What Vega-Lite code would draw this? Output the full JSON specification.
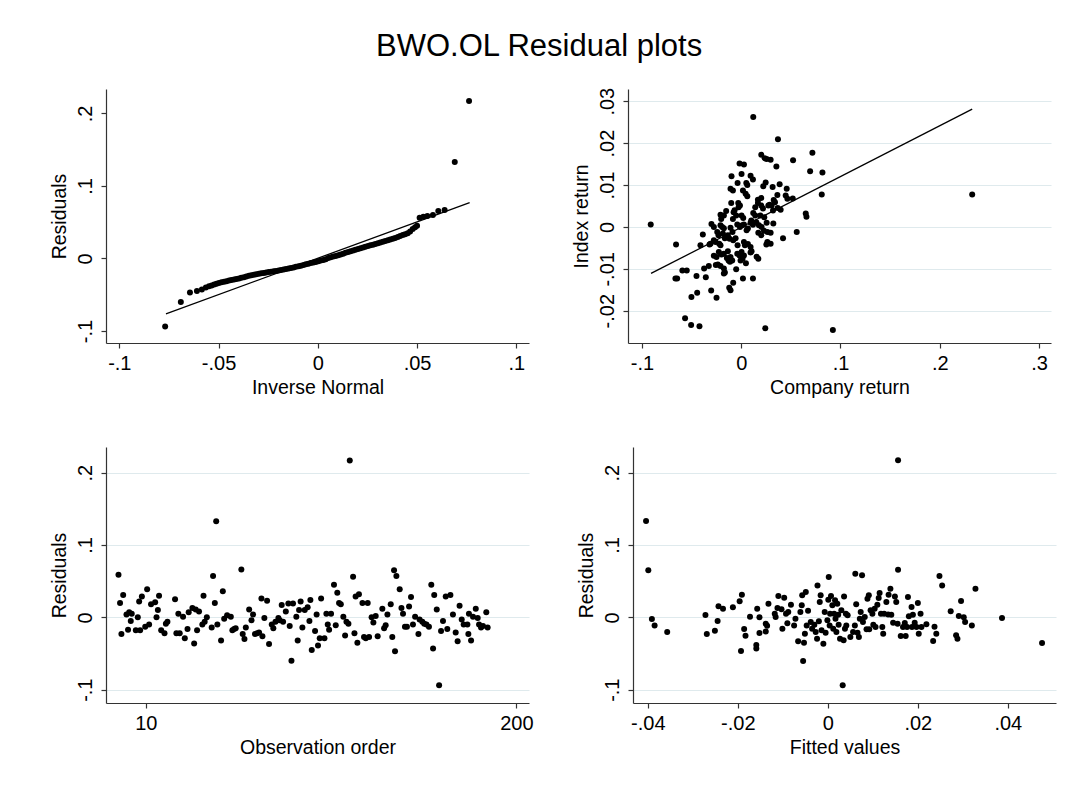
{
  "$schema": "https://vega.github.io/schema/vega-lite/v6.json",
  "background": "white",
  "padding": {"left": 49, "top": 31, "right": 10, "bottom": 10},
  "title": {"text": "BWO.OL Residual plots", "fontSize": 31, "font": "Liberation Sans", "fontWeight": "normal", "color": "#000000", "anchor": "start", "frame": "group", "dx": 270, "offset": 24},
  "config": {
    "font": "Liberation Sans",
    "view": {"stroke": null},
    "axis": {
      "labelFont": "Liberation Sans", "titleFont": "Liberation Sans",
      "labelFontSize": 20, "titleFontSize": 19.5, "titleFontWeight": "normal",
      "labelColor": "#000000", "titleColor": "#000000",
      "domainColor": "#333333", "tickColor": "#333333", "domainWidth": 1.2, "tickWidth": 1.2,
      "tickSize": 5, "grid": false, "gridColor": "#dfeaed", "gridWidth": 1.2,
      "labelFlush": false, "labelOverlap": false, "labelPadding": 5, "titlePadding": 5,
      "labelExpr": "(datum.value < 0 ? '-' : '') + replace(format(abs(datum.value), '~g'), '0.', '.')"
    },
    "axisY": {"labelAngle": -90, "labelAlign": "center", "labelBaseline": "bottom", "labelPadding": 6, "titlePadding": 6}
  },
  "datasets": {
    "qq": [
      {"inverse_normal": -0.0769, "residual": -0.094},
      {"inverse_normal": -0.0690, "residual": -0.060},
      {"inverse_normal": -0.0644, "residual": -0.047},
      {"inverse_normal": -0.0609, "residual": -0.045},
      {"inverse_normal": -0.0584, "residual": -0.043},
      {"inverse_normal": -0.0564, "residual": -0.040},
      {"inverse_normal": -0.0548, "residual": -0.0385},
      {"inverse_normal": -0.0535, "residual": -0.0372},
      {"inverse_normal": -0.0522, "residual": -0.0360},
      {"inverse_normal": -0.0510, "residual": -0.0348},
      {"inverse_normal": -0.0498, "residual": -0.0338},
      {"inverse_normal": -0.0485, "residual": -0.0330},
      {"inverse_normal": -0.0472, "residual": -0.0322},
      {"inverse_normal": -0.0460, "residual": -0.0314},
      {"inverse_normal": -0.0447, "residual": -0.0306},
      {"inverse_normal": -0.0435, "residual": -0.0298},
      {"inverse_normal": -0.0422, "residual": -0.0290},
      {"inverse_normal": -0.0410, "residual": -0.0283},
      {"inverse_normal": -0.0397, "residual": -0.0276},
      {"inverse_normal": -0.0385, "residual": -0.0268},
      {"inverse_normal": -0.0372, "residual": -0.0260},
      {"inverse_normal": -0.0360, "residual": -0.0250},
      {"inverse_normal": -0.0347, "residual": -0.0240},
      {"inverse_normal": -0.0335, "residual": -0.0232},
      {"inverse_normal": -0.0322, "residual": -0.0225},
      {"inverse_normal": -0.0310, "residual": -0.0218},
      {"inverse_normal": -0.0297, "residual": -0.0212},
      {"inverse_normal": -0.0285, "residual": -0.0206},
      {"inverse_normal": -0.0272, "residual": -0.0200},
      {"inverse_normal": -0.0260, "residual": -0.0193},
      {"inverse_normal": -0.0247, "residual": -0.0187},
      {"inverse_normal": -0.0235, "residual": -0.0182},
      {"inverse_normal": -0.0222, "residual": -0.0177},
      {"inverse_normal": -0.0210, "residual": -0.0172},
      {"inverse_normal": -0.0197, "residual": -0.0166},
      {"inverse_normal": -0.0185, "residual": -0.0160},
      {"inverse_normal": -0.0172, "residual": -0.0154},
      {"inverse_normal": -0.0160, "residual": -0.0147},
      {"inverse_normal": -0.0147, "residual": -0.0140},
      {"inverse_normal": -0.0135, "residual": -0.0132},
      {"inverse_normal": -0.0122, "residual": -0.0124},
      {"inverse_normal": -0.0110, "residual": -0.0116},
      {"inverse_normal": -0.0097, "residual": -0.0108},
      {"inverse_normal": -0.0085, "residual": -0.0100},
      {"inverse_normal": -0.0072, "residual": -0.0090},
      {"inverse_normal": -0.0060, "residual": -0.0080},
      {"inverse_normal": -0.0047, "residual": -0.0072},
      {"inverse_normal": -0.0035, "residual": -0.0064},
      {"inverse_normal": -0.0022, "residual": -0.0056},
      {"inverse_normal": -0.0010, "residual": -0.0048},
      {"inverse_normal": 0.0003, "residual": -0.0040},
      {"inverse_normal": 0.0015, "residual": -0.0030},
      {"inverse_normal": 0.0028, "residual": -0.0020},
      {"inverse_normal": 0.0040, "residual": -0.0010},
      {"inverse_normal": 0.0053, "residual": 0.0005},
      {"inverse_normal": 0.0065, "residual": 0.0015},
      {"inverse_normal": 0.0078, "residual": 0.0025},
      {"inverse_normal": 0.0090, "residual": 0.0035},
      {"inverse_normal": 0.0103, "residual": 0.0045},
      {"inverse_normal": 0.0115, "residual": 0.0055},
      {"inverse_normal": 0.0128, "residual": 0.0066},
      {"inverse_normal": 0.0140, "residual": 0.0078},
      {"inverse_normal": 0.0153, "residual": 0.0090},
      {"inverse_normal": 0.0165, "residual": 0.0100},
      {"inverse_normal": 0.0178, "residual": 0.0110},
      {"inverse_normal": 0.0190, "residual": 0.0120},
      {"inverse_normal": 0.0203, "residual": 0.0130},
      {"inverse_normal": 0.0215, "residual": 0.0140},
      {"inverse_normal": 0.0228, "residual": 0.0150},
      {"inverse_normal": 0.0240, "residual": 0.0160},
      {"inverse_normal": 0.0253, "residual": 0.0170},
      {"inverse_normal": 0.0265, "residual": 0.0180},
      {"inverse_normal": 0.0278, "residual": 0.0190},
      {"inverse_normal": 0.0290, "residual": 0.0200},
      {"inverse_normal": 0.0303, "residual": 0.0210},
      {"inverse_normal": 0.0315, "residual": 0.0220},
      {"inverse_normal": 0.0328, "residual": 0.0230},
      {"inverse_normal": 0.0340, "residual": 0.0240},
      {"inverse_normal": 0.0353, "residual": 0.0250},
      {"inverse_normal": 0.0365, "residual": 0.0260},
      {"inverse_normal": 0.0378, "residual": 0.0270},
      {"inverse_normal": 0.0390, "residual": 0.0283},
      {"inverse_normal": 0.0403, "residual": 0.0296},
      {"inverse_normal": 0.0415, "residual": 0.0310},
      {"inverse_normal": 0.0428, "residual": 0.0322},
      {"inverse_normal": 0.0440, "residual": 0.0334},
      {"inverse_normal": 0.0453, "residual": 0.0348},
      {"inverse_normal": 0.0465, "residual": 0.0370},
      {"inverse_normal": 0.0478, "residual": 0.0405},
      {"inverse_normal": 0.0490, "residual": 0.0430},
      {"inverse_normal": 0.0500, "residual": 0.0450},
      {"inverse_normal": 0.0513, "residual": 0.0562},
      {"inverse_normal": 0.0532, "residual": 0.0576},
      {"inverse_normal": 0.0552, "residual": 0.0585},
      {"inverse_normal": 0.0580, "residual": 0.0600},
      {"inverse_normal": 0.0607, "residual": 0.0654},
      {"inverse_normal": 0.0639, "residual": 0.0668},
      {"inverse_normal": 0.0690, "residual": 0.133},
      {"inverse_normal": 0.0762, "residual": 0.217}
    ],
    "qq_line": [
      {"inverse_normal": -0.0765, "residual": -0.0765},
      {"inverse_normal": 0.0765, "residual": 0.077}
    ],
    "returns": [
      {"company_return": 0.0202, "index_return": 0.0172},
      {"company_return": 0.0236, "index_return": 0.0164},
      {"company_return": 0.0256, "index_return": 0.0162},
      {"company_return": 0.0296, "index_return": 0.0160},
      {"company_return": -0.0017, "index_return": 0.0151},
      {"company_return": 0.0027, "index_return": 0.0149},
      {"company_return": 0.0354, "index_return": 0.0144},
      {"company_return": -0.0098, "index_return": 0.0121},
      {"company_return": 0.0003, "index_return": 0.0126},
      {"company_return": 0.0094, "index_return": 0.0122},
      {"company_return": 0.0118, "index_return": 0.0113},
      {"company_return": 0.0051, "index_return": 0.0105},
      {"company_return": 0.0061, "index_return": 0.0100},
      {"company_return": 0.0246, "index_return": 0.0106},
      {"company_return": 0.0222, "index_return": 0.0097},
      {"company_return": 0.0316, "index_return": 0.0095},
      {"company_return": 0.0387, "index_return": 0.0102},
      {"company_return": -0.0108, "index_return": 0.0091},
      {"company_return": -0.0084, "index_return": 0.0087},
      {"company_return": -0.0037, "index_return": 0.0105},
      {"company_return": 0.0017, "index_return": 0.0087},
      {"company_return": 0.0044, "index_return": 0.0079},
      {"company_return": 0.0061, "index_return": 0.0073},
      {"company_return": 0.0202, "index_return": 0.0069},
      {"company_return": 0.0168, "index_return": 0.0065},
      {"company_return": 0.0364, "index_return": 0.0076},
      {"company_return": 0.0448, "index_return": 0.0075},
      {"company_return": 0.0465, "index_return": 0.0067},
      {"company_return": -0.0101, "index_return": 0.0057},
      {"company_return": -0.0030, "index_return": 0.0057},
      {"company_return": -0.0013, "index_return": 0.0051},
      {"company_return": 0.0168, "index_return": 0.0057},
      {"company_return": 0.0141, "index_return": 0.0047},
      {"company_return": 0.0202, "index_return": 0.0051},
      {"company_return": 0.0286, "index_return": 0.0053},
      {"company_return": 0.0327, "index_return": 0.0064},
      {"company_return": 0.0340, "index_return": 0.0059},
      {"company_return": 0.0397, "index_return": 0.0041},
      {"company_return": 0.0367, "index_return": 0.0045},
      {"company_return": -0.0175, "index_return": 0.0027},
      {"company_return": -0.0202, "index_return": 0.0019},
      {"company_return": -0.0209, "index_return": 0.0029},
      {"company_return": -0.0152, "index_return": 0.0038},
      {"company_return": -0.0077, "index_return": 0.0035},
      {"company_return": -0.0067, "index_return": 0.0040},
      {"company_return": -0.0084, "index_return": 0.0019},
      {"company_return": -0.0051, "index_return": 0.0027},
      {"company_return": -0.0027, "index_return": 0.0047},
      {"company_return": 0.0003, "index_return": 0.0027},
      {"company_return": 0.0020, "index_return": 0.0021},
      {"company_return": 0.0121, "index_return": 0.0033},
      {"company_return": 0.0141, "index_return": 0.0027},
      {"company_return": 0.0101, "index_return": 0.0015},
      {"company_return": 0.0192, "index_return": 0.0027},
      {"company_return": 0.0219, "index_return": 0.0044},
      {"company_return": 0.0232, "index_return": 0.0023},
      {"company_return": 0.0256, "index_return": 0.0010},
      {"company_return": 0.0306, "index_return": 0.0051},
      {"company_return": 0.0320, "index_return": 0.0039},
      {"company_return": 0.0273, "index_return": 0.0051},
      {"company_return": 0.0323, "index_return": 0.0008},
      {"company_return": -0.0209, "index_return": 0.0004},
      {"company_return": -0.0192, "index_return": 0.0000},
      {"company_return": -0.0175, "index_return": -0.0003},
      {"company_return": -0.0108, "index_return": -0.0002},
      {"company_return": -0.0088, "index_return": -0.0012},
      {"company_return": -0.0040, "index_return": 0.0006},
      {"company_return": -0.0013, "index_return": 0.0000},
      {"company_return": 0.0010, "index_return": 0.0004},
      {"company_return": 0.0027, "index_return": 0.0006},
      {"company_return": 0.0054, "index_return": -0.0008},
      {"company_return": 0.0067, "index_return": -0.0004},
      {"company_return": 0.0094, "index_return": 0.0010},
      {"company_return": 0.0118, "index_return": 0.0005},
      {"company_return": 0.0178, "index_return": 0.0004},
      {"company_return": 0.0205, "index_return": 0.0000},
      {"company_return": 0.0202, "index_return": -0.0020},
      {"company_return": 0.0172, "index_return": -0.0014},
      {"company_return": 0.0229, "index_return": -0.0009},
      {"company_return": 0.0263, "index_return": -0.0012},
      {"company_return": 0.0296, "index_return": -0.0014},
      {"company_return": 0.0152, "index_return": 0.0011},
      {"company_return": -0.0242, "index_return": -0.0012},
      {"company_return": -0.0229, "index_return": -0.0020},
      {"company_return": -0.0276, "index_return": -0.0032},
      {"company_return": -0.0259, "index_return": -0.0036},
      {"company_return": -0.0222, "index_return": -0.0040},
      {"company_return": -0.0209, "index_return": -0.0044},
      {"company_return": -0.0320, "index_return": -0.0042},
      {"company_return": -0.0135, "index_return": -0.0020},
      {"company_return": -0.0118, "index_return": -0.0028},
      {"company_return": -0.0185, "index_return": -0.0016},
      {"company_return": -0.0165, "index_return": -0.0027},
      {"company_return": -0.0057, "index_return": -0.0027},
      {"company_return": -0.0081, "index_return": -0.0032},
      {"company_return": 0.0027, "index_return": -0.0036},
      {"company_return": 0.0037, "index_return": -0.0044},
      {"company_return": 0.0067, "index_return": -0.0041},
      {"company_return": -0.0037, "index_return": -0.0044},
      {"company_return": 0.0094, "index_return": -0.0048},
      {"company_return": 0.0253, "index_return": -0.0042},
      {"company_return": 0.0296, "index_return": -0.0040},
      {"company_return": 0.0263, "index_return": -0.0036},
      {"company_return": 0.0003, "index_return": -0.0060},
      {"company_return": 0.0027, "index_return": -0.0068},
      {"company_return": -0.0226, "index_return": -0.0060},
      {"company_return": -0.0199, "index_return": -0.0066},
      {"company_return": -0.0175, "index_return": -0.0064},
      {"company_return": -0.0276, "index_return": -0.0069},
      {"company_return": -0.0249, "index_return": -0.0072},
      {"company_return": -0.0135, "index_return": -0.0058},
      {"company_return": -0.0108, "index_return": -0.0072},
      {"company_return": -0.0091, "index_return": -0.0080},
      {"company_return": -0.0040, "index_return": -0.0064},
      {"company_return": -0.0017, "index_return": -0.0068},
      {"company_return": 0.0104, "index_return": -0.0058},
      {"company_return": 0.0094, "index_return": -0.0061},
      {"company_return": 0.0155, "index_return": -0.0071},
      {"company_return": 0.0172, "index_return": -0.0076},
      {"company_return": 0.0013, "index_return": -0.0076},
      {"company_return": -0.0007, "index_return": -0.0080},
      {"company_return": 0.0047, "index_return": -0.0087},
      {"company_return": -0.0256, "index_return": -0.0091},
      {"company_return": -0.0236, "index_return": -0.0090},
      {"company_return": -0.0209, "index_return": -0.0093},
      {"company_return": -0.0128, "index_return": -0.0080},
      {"company_return": -0.0114, "index_return": -0.0083},
      {"company_return": -0.0175, "index_return": -0.0099},
      {"company_return": -0.0165, "index_return": -0.0109},
      {"company_return": -0.0175, "index_return": -0.0111},
      {"company_return": -0.0051, "index_return": -0.0101},
      {"company_return": 0.0017, "index_return": -0.0123},
      {"company_return": -0.0081, "index_return": -0.0133},
      {"company_return": -0.0121, "index_return": -0.0145},
      {"company_return": -0.0108, "index_return": -0.0151},
      {"company_return": 0.0118, "index_return": -0.0123},
      {"company_return": -0.0145, "index_return": -0.0074},
      {"company_return": -0.0912, "index_return": 0.0006},
      {"company_return": -0.0657, "index_return": -0.0042},
      {"company_return": -0.0663, "index_return": -0.0123},
      {"company_return": -0.0646, "index_return": -0.0123},
      {"company_return": -0.0593, "index_return": -0.0104},
      {"company_return": -0.0549, "index_return": -0.0104},
      {"company_return": -0.0566, "index_return": -0.0218},
      {"company_return": -0.0505, "index_return": -0.0234},
      {"company_return": -0.0421, "index_return": -0.0237},
      {"company_return": -0.0502, "index_return": -0.0167},
      {"company_return": -0.0444, "index_return": -0.0157},
      {"company_return": -0.0451, "index_return": -0.0117},
      {"company_return": -0.0387, "index_return": -0.0018},
      {"company_return": -0.0411, "index_return": -0.0044},
      {"company_return": -0.0357, "index_return": -0.0120},
      {"company_return": -0.0374, "index_return": -0.0099},
      {"company_return": -0.0303, "index_return": -0.0152},
      {"company_return": -0.0249, "index_return": -0.0169},
      {"company_return": -0.0300, "index_return": 0.0007},
      {"company_return": -0.0276, "index_return": 0.0000},
      {"company_return": -0.0327, "index_return": -0.0093},
      {"company_return": -0.0310, "index_return": -0.0040},
      {"company_return": 0.0242, "index_return": -0.0242},
      {"company_return": 0.0923, "index_return": -0.0246},
      {"company_return": 0.2327, "index_return": 0.0077},
      {"company_return": 0.0121, "index_return": 0.0262},
      {"company_return": 0.0370, "index_return": 0.0209},
      {"company_return": 0.0717, "index_return": 0.0177},
      {"company_return": 0.0522, "index_return": 0.0159},
      {"company_return": 0.0694, "index_return": 0.0133},
      {"company_return": 0.0818, "index_return": 0.0130},
      {"company_return": 0.0811, "index_return": 0.0077},
      {"company_return": 0.0650, "index_return": 0.0032},
      {"company_return": 0.0657, "index_return": 0.0024},
      {"company_return": 0.0559, "index_return": -0.0012},
      {"company_return": 0.0421, "index_return": -0.0027},
      {"company_return": 0.0519, "index_return": 0.0068},
      {"company_return": 0.0458, "index_return": 0.0091}
    ],
    "fit_line": [
      {"company_return": -0.0909, "index_return": -0.0111},
      {"company_return": 0.2327, "index_return": 0.0281}
    ],
    "by_obs": [
      {"obs": -4.0, "residual": 0.059}, {"obs": -3.2, "residual": 0.020}, {"obs": -2.5, "residual": -0.023}, {"obs": -1.6, "residual": 0.031},
      {"obs": 0.1, "residual": 0.004}, {"obs": 0.9, "residual": -0.017}, {"obs": 1.5, "residual": 0.007}, {"obs": 2.3, "residual": -0.005},
      {"obs": 2.8, "residual": 0.005}, {"obs": 4.9, "residual": -0.018}, {"obs": 5.9, "residual": 0.000}, {"obs": 6.6, "residual": 0.022},
      {"obs": 7.1, "residual": -0.018}, {"obs": 8.0, "residual": 0.029}, {"obs": 9.7, "residual": -0.013}, {"obs": 10.7, "residual": 0.039},
      {"obs": 11.7, "residual": -0.010}, {"obs": 12.7, "residual": 0.018}, {"obs": 14.8, "residual": 0.021}, {"obs": 15.5, "residual": 0.000},
      {"obs": 16.2, "residual": 0.010}, {"obs": 16.8, "residual": 0.030}, {"obs": 17.9, "residual": -0.018}, {"obs": 19.6, "residual": -0.022},
      {"obs": 20.3, "residual": -0.009}, {"obs": 21.1, "residual": -0.006}, {"obs": 25.0, "residual": 0.025}, {"obs": 25.7, "residual": -0.022},
      {"obs": 26.7, "residual": 0.005}, {"obs": 27.4, "residual": -0.022}, {"obs": 29.1, "residual": 0.001}, {"obs": 30.0, "residual": -0.029},
      {"obs": 31.4, "residual": -0.016}, {"obs": 32.0, "residual": 0.007}, {"obs": 33.9, "residual": 0.013}, {"obs": 34.8, "residual": -0.036},
      {"obs": 35.6, "residual": 0.011}, {"obs": 36.3, "residual": -0.018}, {"obs": 37.3, "residual": 0.008}, {"obs": 39.0, "residual": -0.010},
      {"obs": 39.6, "residual": 0.030}, {"obs": 40.2, "residual": -0.006}, {"obs": 41.3, "residual": 0.000}, {"obs": 43.8, "residual": -0.014},
      {"obs": 44.5, "residual": 0.057}, {"obs": 45.4, "residual": 0.020}, {"obs": 46.1, "residual": 0.133}, {"obs": 46.7, "residual": -0.010},
      {"obs": 48.6, "residual": -0.032}, {"obs": 49.5, "residual": 0.036}, {"obs": 50.2, "residual": -0.002}, {"obs": 51.7, "residual": 0.003},
      {"obs": 53.6, "residual": 0.001}, {"obs": 54.4, "residual": -0.018}, {"obs": 55.3, "residual": -0.016}, {"obs": 56.1, "residual": -0.015},
      {"obs": 59.0, "residual": 0.066}, {"obs": 59.7, "residual": -0.023}, {"obs": 60.6, "residual": -0.030}, {"obs": 61.3, "residual": -0.014},
      {"obs": 63.0, "residual": 0.011}, {"obs": 64.2, "residual": -0.004}, {"obs": 65.0, "residual": 0.004}, {"obs": 66.0, "residual": -0.023},
      {"obs": 67.1, "residual": -0.022}, {"obs": 68.1, "residual": -0.021}, {"obs": 69.3, "residual": 0.026}, {"obs": 69.8, "residual": -0.026},
      {"obs": 70.8, "residual": -0.001}, {"obs": 72.2, "residual": 0.023}, {"obs": 73.2, "residual": -0.037}, {"obs": 74.6, "residual": -0.010},
      {"obs": 75.4, "residual": -0.015}, {"obs": 76.5, "residual": -0.006}, {"obs": 78.0, "residual": -0.001}, {"obs": 78.7, "residual": -0.004},
      {"obs": 79.7, "residual": 0.017}, {"obs": 80.4, "residual": -0.006}, {"obs": 81.8, "residual": 0.008}, {"obs": 83.1, "residual": 0.019},
      {"obs": 83.8, "residual": -0.012}, {"obs": 84.7, "residual": -0.060}, {"obs": 85.5, "residual": 0.019}, {"obs": 87.2, "residual": 0.001},
      {"obs": 87.9, "residual": -0.032}, {"obs": 88.6, "residual": 0.010}, {"obs": 89.4, "residual": 0.022}, {"obs": 90.3, "residual": -0.014},
      {"obs": 91.5, "residual": 0.010}, {"obs": 93.0, "residual": 0.014}, {"obs": 93.9, "residual": -0.005}, {"obs": 94.4, "residual": 0.024},
      {"obs": 95.1, "residual": -0.045}, {"obs": 96.8, "residual": -0.019}, {"obs": 97.6, "residual": 0.004}, {"obs": 98.3, "residual": -0.039},
      {"obs": 99.2, "residual": -0.029}, {"obs": 99.9, "residual": 0.026}, {"obs": 101.6, "residual": -0.029}, {"obs": 102.6, "residual": 0.005},
      {"obs": 103.3, "residual": -0.010}, {"obs": 104.0, "residual": -0.017}, {"obs": 105.0, "residual": 0.005}, {"obs": 106.5, "residual": 0.045},
      {"obs": 107.4, "residual": -0.011}, {"obs": 108.2, "residual": 0.034}, {"obs": 109.1, "residual": 0.020}, {"obs": 110.0, "residual": 0.018},
      {"obs": 111.3, "residual": 0.001}, {"obs": 112.2, "residual": -0.025}, {"obs": 112.9, "residual": -0.006}, {"obs": 113.9, "residual": -0.009},
      {"obs": 114.6, "residual": 0.217}, {"obs": 116.3, "residual": 0.056}, {"obs": 117.0, "residual": -0.022}, {"obs": 117.6, "residual": 0.029},
      {"obs": 118.5, "residual": -0.035}, {"obs": 119.3, "residual": 0.032}, {"obs": 121.1, "residual": 0.020}, {"obs": 121.9, "residual": -0.027},
      {"obs": 122.8, "residual": -0.029}, {"obs": 123.8, "residual": 0.020}, {"obs": 124.5, "residual": -0.027}, {"obs": 125.8, "residual": 0.000},
      {"obs": 126.7, "residual": -0.007}, {"obs": 127.9, "residual": 0.002}, {"obs": 128.9, "residual": -0.026}, {"obs": 131.3, "residual": 0.012},
      {"obs": 132.2, "residual": -0.015}, {"obs": 133.0, "residual": -0.011}, {"obs": 133.9, "residual": 0.004}, {"obs": 135.6, "residual": 0.018},
      {"obs": 136.4, "residual": -0.027}, {"obs": 137.3, "residual": 0.065}, {"obs": 137.8, "residual": -0.047}, {"obs": 138.5, "residual": 0.057},
      {"obs": 140.2, "residual": 0.039}, {"obs": 141.1, "residual": 0.013}, {"obs": 141.9, "residual": 0.005}, {"obs": 142.9, "residual": -0.013},
      {"obs": 143.9, "residual": -0.013}, {"obs": 145.0, "residual": 0.015}, {"obs": 146.0, "residual": 0.028}, {"obs": 147.0, "residual": -0.010},
      {"obs": 148.1, "residual": 0.001}, {"obs": 149.8, "residual": -0.023}, {"obs": 150.4, "residual": -0.003}, {"obs": 151.8, "residual": -0.006},
      {"obs": 152.8, "residual": -0.009}, {"obs": 153.9, "residual": -0.010}, {"obs": 155.2, "residual": -0.013}, {"obs": 156.4, "residual": 0.045},
      {"obs": 157.3, "residual": -0.043}, {"obs": 157.9, "residual": 0.031}, {"obs": 159.2, "residual": 0.011}, {"obs": 160.4, "residual": -0.094},
      {"obs": 161.4, "residual": -0.019}, {"obs": 162.4, "residual": -0.005}, {"obs": 163.8, "residual": 0.029}, {"obs": 164.6, "residual": -0.016},
      {"obs": 166.2, "residual": 0.031}, {"obs": 167.5, "residual": 0.004}, {"obs": 168.9, "residual": -0.021}, {"obs": 169.9, "residual": -0.033},
      {"obs": 170.9, "residual": 0.016}, {"obs": 172.0, "residual": -0.003}, {"obs": 173.0, "residual": -0.010}, {"obs": 174.9, "residual": -0.010},
      {"obs": 175.4, "residual": -0.023}, {"obs": 175.7, "residual": 0.005}, {"obs": 176.8, "residual": -0.032}, {"obs": 177.8, "residual": 0.001},
      {"obs": 179.2, "residual": 0.012}, {"obs": 180.2, "residual": -0.001}, {"obs": 180.9, "residual": -0.010}, {"obs": 181.9, "residual": -0.014},
      {"obs": 182.9, "residual": -0.012}, {"obs": 184.6, "residual": 0.007}, {"obs": 185.3, "residual": -0.014}
    ],
    "by_fitted": [
      {"fitted": -0.0404, "residual": 0.1332}, {"fitted": -0.0399, "residual": 0.0650}, {"fitted": -0.0391, "residual": -0.0023}, {"fitted": -0.0385, "residual": -0.0111},
      {"fitted": -0.0357, "residual": -0.0203}, {"fitted": -0.0272, "residual": 0.0032}, {"fitted": -0.0269, "residual": -0.0230}, {"fitted": -0.0251, "residual": -0.0184},
      {"fitted": -0.0245, "residual": -0.0051}, {"fitted": -0.0243, "residual": 0.0152}, {"fitted": -0.0233, "residual": 0.0120}, {"fitted": -0.0211, "residual": 0.0138},
      {"fitted": -0.0196, "residual": 0.0221}, {"fitted": -0.0191, "residual": 0.0313}, {"fitted": -0.0193, "residual": -0.0465}, {"fitted": -0.0186, "residual": -0.0161},
      {"fitted": -0.0183, "residual": -0.0253}, {"fitted": -0.0173, "residual": 0.0009}, {"fitted": -0.0157, "residual": 0.0120}, {"fitted": -0.0152, "residual": 0.0000},
      {"fitted": -0.0159, "residual": -0.0382}, {"fitted": -0.0159, "residual": -0.0429}, {"fitted": -0.0152, "residual": -0.0217}, {"fitted": -0.0138, "residual": -0.0088},
      {"fitted": -0.0135, "residual": -0.0115}, {"fitted": -0.0138, "residual": -0.0194}, {"fitted": -0.0132, "residual": 0.0189}, {"fitted": -0.0118, "residual": 0.0051},
      {"fitted": -0.0116, "residual": 0.0005}, {"fitted": -0.0112, "residual": 0.0129}, {"fitted": -0.0110, "residual": 0.0295}, {"fitted": -0.0103, "residual": 0.0111},
      {"fitted": -0.0101, "residual": -0.0157}, {"fitted": -0.0097, "residual": 0.0272}, {"fitted": -0.0093, "residual": 0.0051}, {"fitted": -0.0090, "residual": -0.0083},
      {"fitted": -0.0088, "residual": 0.0074}, {"fitted": -0.0082, "residual": 0.0175}, {"fitted": -0.0075, "residual": -0.0111}, {"fitted": -0.0072, "residual": -0.0018},
      {"fitted": -0.0066, "residual": -0.0332}, {"fitted": -0.0061, "residual": 0.0074}, {"fitted": -0.0058, "residual": 0.0166}, {"fitted": -0.0057, "residual": 0.0304},
      {"fitted": -0.0055, "residual": -0.0604}, {"fitted": -0.0053, "residual": -0.0350}, {"fitted": -0.0051, "residual": -0.0226}, {"fitted": -0.0049, "residual": 0.0350},
      {"fitted": -0.0047, "residual": -0.0111}, {"fitted": -0.0044, "residual": 0.0092}, {"fitted": -0.0038, "residual": -0.0065}, {"fitted": -0.0035, "residual": -0.0157},
      {"fitted": -0.0030, "residual": -0.0101}, {"fitted": -0.0027, "residual": -0.0203}, {"fitted": -0.0024, "residual": -0.0295}, {"fitted": -0.0023, "residual": 0.0442},
      {"fitted": -0.0020, "residual": -0.0055}, {"fitted": -0.0018, "residual": 0.0212}, {"fitted": -0.0016, "residual": 0.0304}, {"fitted": -0.0014, "residual": -0.0180},
      {"fitted": -0.0010, "residual": -0.0364}, {"fitted": -0.0007, "residual": 0.0074}, {"fitted": -0.0005, "residual": -0.0212}, {"fitted": -0.0001, "residual": -0.0041},
      {"fitted": 0.0001, "residual": 0.0244}, {"fitted": 0.0002, "residual": 0.0558}, {"fitted": 0.0004, "residual": -0.0111}, {"fitted": 0.0005, "residual": 0.0051},
      {"fitted": 0.0007, "residual": 0.0295}, {"fitted": 0.0010, "residual": 0.0166}, {"fitted": 0.0012, "residual": -0.0157}, {"fitted": 0.0014, "residual": 0.0051},
      {"fitted": 0.0016, "residual": 0.0235}, {"fitted": 0.0017, "residual": -0.0018}, {"fitted": 0.0019, "residual": -0.0203}, {"fitted": 0.0021, "residual": 0.0189},
      {"fitted": 0.0023, "residual": 0.0037}, {"fitted": 0.0024, "residual": -0.0101}, {"fitted": 0.0027, "residual": -0.0295}, {"fitted": 0.0030, "residual": 0.0097},
      {"fitted": 0.0033, "residual": -0.0940}, {"fitted": 0.0035, "residual": -0.0318}, {"fitted": 0.0036, "residual": 0.0290}, {"fitted": 0.0038, "residual": -0.0157},
      {"fitted": 0.0040, "residual": 0.0051}, {"fitted": 0.0041, "residual": -0.0111}, {"fitted": 0.0044, "residual": 0.0028}, {"fitted": 0.0050, "residual": -0.0272},
      {"fitted": 0.0056, "residual": -0.0203}, {"fitted": 0.0060, "residual": -0.0111}, {"fitted": 0.0061, "residual": 0.0604}, {"fitted": 0.0063, "residual": 0.0180},
      {"fitted": 0.0066, "residual": -0.0212}, {"fitted": 0.0069, "residual": -0.0272}, {"fitted": 0.0071, "residual": -0.0018}, {"fitted": 0.0073, "residual": 0.0074},
      {"fitted": 0.0076, "residual": 0.0581}, {"fitted": 0.0078, "residual": -0.0065}, {"fitted": 0.0082, "residual": 0.0005}, {"fitted": 0.0086, "residual": -0.0166},
      {"fitted": 0.0088, "residual": 0.0258}, {"fitted": 0.0091, "residual": 0.0304}, {"fitted": 0.0092, "residual": -0.0166}, {"fitted": 0.0095, "residual": 0.0097},
      {"fitted": 0.0099, "residual": 0.0051}, {"fitted": 0.0101, "residual": -0.0101}, {"fitted": 0.0104, "residual": 0.0120}, {"fitted": 0.0106, "residual": -0.0134},
      {"fitted": 0.0110, "residual": 0.0175}, {"fitted": 0.0113, "residual": 0.0267}, {"fitted": 0.0115, "residual": 0.0336}, {"fitted": 0.0118, "residual": 0.0051},
      {"fitted": 0.0121, "residual": -0.0134}, {"fitted": 0.0123, "residual": -0.0226}, {"fitted": 0.0125, "residual": 0.0051}, {"fitted": 0.0130, "residual": 0.0212},
      {"fitted": 0.0134, "residual": 0.0041}, {"fitted": 0.0135, "residual": 0.0313}, {"fitted": 0.0139, "residual": 0.0396}, {"fitted": 0.0141, "residual": 0.0037},
      {"fitted": 0.0145, "residual": -0.0074}, {"fitted": 0.0149, "residual": 0.0290}, {"fitted": 0.0152, "residual": 0.0212}, {"fitted": 0.0155, "residual": -0.0088},
      {"fitted": 0.0156, "residual": 0.2171}, {"fitted": 0.0156, "residual": 0.0659}, {"fitted": 0.0162, "residual": -0.0258}, {"fitted": 0.0167, "residual": -0.0134},
      {"fitted": 0.0171, "residual": -0.0078}, {"fitted": 0.0173, "residual": -0.0258}, {"fitted": 0.0176, "residual": -0.0134}, {"fitted": 0.0178, "residual": 0.0281},
      {"fitted": 0.0180, "residual": 0.0014}, {"fitted": 0.0186, "residual": 0.0143}, {"fitted": 0.0187, "residual": -0.0134}, {"fitted": 0.0189, "residual": 0.0037},
      {"fitted": 0.0193, "residual": -0.0074}, {"fitted": 0.0197, "residual": -0.0134}, {"fitted": 0.0200, "residual": 0.0198}, {"fitted": 0.0202, "residual": -0.0226},
      {"fitted": 0.0206, "residual": 0.0051}, {"fitted": 0.0208, "residual": -0.0134}, {"fitted": 0.0219, "residual": -0.0097}, {"fitted": 0.0234, "residual": -0.0327},
      {"fitted": 0.0237, "residual": -0.0129}, {"fitted": 0.0241, "residual": -0.0226}, {"fitted": 0.0248, "residual": 0.0571}, {"fitted": 0.0254, "residual": 0.0442},
      {"fitted": 0.0273, "residual": 0.0083}, {"fitted": 0.0285, "residual": -0.0249}, {"fitted": 0.0288, "residual": -0.0295}, {"fitted": 0.0291, "residual": 0.0018},
      {"fitted": 0.0296, "residual": 0.0226}, {"fitted": 0.0302, "residual": 0.0000}, {"fitted": 0.0305, "residual": -0.0065}, {"fitted": 0.0320, "residual": -0.0111},
      {"fitted": 0.0328, "residual": 0.0396}, {"fitted": 0.0387, "residual": -0.0009}, {"fitted": 0.0476, "residual": -0.0355}
    ]
  },
  "vconcat": [
    {
      "spacing": 42,
      "hconcat": [
        {
          "width": 423, "height": 254,
          "layer": [
            {
              "data": {"name": "qq"},
              "mark": {"type": "circle", "size": 36, "color": "#000000", "opacity": 1},
              "encoding": {
                "x": {"field": "inverse_normal", "type": "quantitative", "scale": {"domain": [-0.1067, 0.1064], "nice": false, "zero": false}, "axis": {"values": [-0.1, -0.05, 0, 0.05, 0.1], "title": "Inverse Normal"}},
                "y": {"field": "residual", "type": "quantitative", "scale": {"domain": [-0.1166, 0.2336], "nice": false, "zero": false}, "axis": {"values": [-0.1, 0, 0.1, 0.2], "title": "Residuals"}}
              }
            },
            {
              "data": {"name": "qq_line"},
              "mark": {"type": "line", "color": "#000000", "strokeWidth": 1.3},
              "encoding": {
                "x": {"field": "inverse_normal", "type": "quantitative"},
                "y": {"field": "residual", "type": "quantitative"}
              }
            }
          ]
        },
        {
          "width": 423, "height": 254,
          "layer": [
            {
              "data": {"name": "returns"},
              "mark": {"type": "circle", "size": 36, "color": "#000000", "opacity": 1},
              "encoding": {
                "x": {"field": "company_return", "type": "quantitative", "scale": {"domain": [-0.1141, 0.3121], "nice": false, "zero": false}, "axis": {"values": [-0.1, 0, 0.1, 0.2, 0.3], "title": "Company return"}},
                "y": {"field": "index_return", "type": "quantitative", "scale": {"domain": [-0.0277, 0.0329], "nice": false, "zero": false}, "axis": {"values": [-0.02, -0.01, 0, 0.01, 0.02, 0.03], "title": "Index return", "grid": true}}
              }
            },
            {
              "data": {"name": "fit_line"},
              "mark": {"type": "line", "color": "#000000", "strokeWidth": 1.3},
              "encoding": {
                "x": {"field": "company_return", "type": "quantitative"},
                "y": {"field": "index_return", "type": "quantitative"}
              }
            }
          ]
        }
      ]
    },
    {
      "spacing": 42,
      "hconcat": [
        {
          "width": 423, "height": 256,
          "layer": [
            {
              "data": {"name": "by_obs"},
              "mark": {"type": "circle", "size": 36, "color": "#000000", "opacity": 1},
              "encoding": {
                "x": {"field": "obs", "type": "quantitative", "scale": {"domain": [-10.4, 206.5], "nice": false, "zero": false}, "axis": {"values": [10, 200], "title": "Observation order"}},
                "y": {"field": "residual", "type": "quantitative", "scale": {"domain": [-0.1184, 0.2355], "nice": false, "zero": false}, "axis": {"values": [-0.1, 0, 0.1, 0.2], "title": "Residuals", "grid": true}}
              }
            },
            {
              "mark": {"type": "rule", "color": "#000000", "strokeWidth": 1.3},
              "encoding": {"y": {"datum": 0}}
            }
          ]
        },
        {
          "width": 423, "height": 256,
          "layer": [
            {
              "data": {"name": "by_fitted"},
              "mark": {"type": "circle", "size": 36, "color": "#000000", "opacity": 1},
              "encoding": {
                "x": {"field": "fitted", "type": "quantitative", "scale": {"domain": [-0.0433, 0.0507], "nice": false, "zero": false}, "axis": {"values": [-0.04, -0.02, 0, 0.02, 0.04], "title": "Fitted values"}},
                "y": {"field": "residual", "type": "quantitative", "scale": {"domain": [-0.1184, 0.2355], "nice": false, "zero": false}, "axis": {"values": [-0.1, 0, 0.1, 0.2], "title": "Residuals", "grid": true}}
              }
            },
            {
              "mark": {"type": "rule", "color": "#000000", "strokeWidth": 1.3},
              "encoding": {"y": {"datum": 0}}
            }
          ]
        }
      ]
    }
  ],
  "spacing": 50
}
